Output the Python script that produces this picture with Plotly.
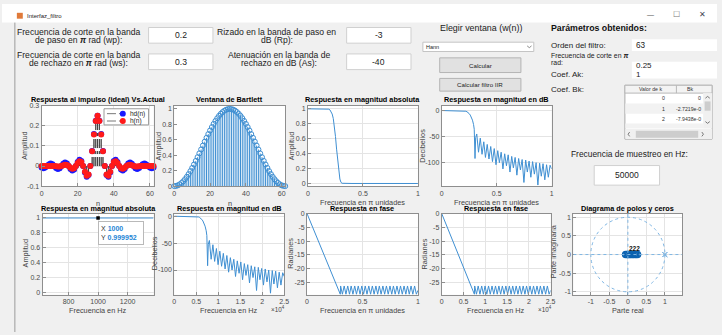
import plotly.graph_objects as go

FIG_W, FIG_H = 722, 335
FONT = "Liberation Sans, Arial, sans-serif"
FS = 50000                      # sampling frequency (Hz)

# ---------------- data ----------------
n = list(range(63))

hd = [-0.0073, -0.0106, -0.0078, 0.0, 0.0083, 0.0122, 0.0090, 0.0, -0.0098, -0.0145,
      -0.0107, 0.0, 0.0118, 0.0177, 0.0132, 0.0, -0.0150, -0.0227, -0.0173, 0.0,
      0.0205, 0.0318, 0.0250, 0.0, -0.0322, -0.0531, -0.0450, 0.0, 0.0750, 0.1592,
      0.2251, 0.2500, 0.2251, 0.1592, 0.0750, 0.0, -0.0450, -0.0531, -0.0322, 0.0,
      0.0250, 0.0318, 0.0205, 0.0, -0.0173, -0.0227, -0.0150, 0.0, 0.0132, 0.0177,
      0.0118, 0.0, -0.0107, -0.0145, -0.0098, 0.0, 0.0090, 0.0122, 0.0083, 0.0,
      -0.0078, -0.0106, -0.0073]

h = [0.0, -2.7219e-05, -7.9438e-05, 0.0, 0.00034, 0.00077, 0.00081, 0.0, -0.00152, -0.00281,
     -0.00252, 0.0, 0.00385, 0.00663, 0.00560, 0.0, -0.00788, -0.01307, -0.01082, 0.0,
     0.01476, 0.02431, 0.02015, 0.0, -0.02832, -0.04834, -0.04217, 0.0, 0.07328, 0.15758,
     0.22451, 0.25000, 0.22451, 0.15758, 0.07328, 0.0, -0.04217, -0.04834, -0.02832, 0.0,
     0.02015, 0.02431, 0.01476, 0.0, -0.01082, -0.01307, -0.00788, 0.0, 0.00560, 0.00663,
     0.00385, 0.0, -0.00252, -0.00281, -0.00152, 0.0, 0.00081, 0.00077, 0.00034, 0.0,
     -7.9438e-05, -2.7219e-05, 0.0]

w_win = [0.0000, 0.0026, 0.0102, 0.0229, 0.0405, 0.0628, 0.0896, 0.1206, 0.1555, 0.1940,
         0.2356, 0.2799, 0.3264, 0.3747, 0.4243, 0.4746, 0.5253, 0.5757, 0.6253, 0.6736,
         0.7202, 0.7644, 0.8060, 0.8445, 0.8794, 0.9104, 0.9372, 0.9595, 0.9771, 0.9898,
         0.9974, 1.0000, 0.9974, 0.9898, 0.9771, 0.9595, 0.9372, 0.9104, 0.8794, 0.8445,
         0.8060, 0.7644, 0.7202, 0.6736, 0.6253, 0.5757, 0.5253, 0.4746, 0.4243, 0.3747,
         0.3264, 0.2799, 0.2356, 0.1940, 0.1555, 0.1206, 0.0896, 0.0628, 0.0405, 0.0229,
         0.0102, 0.0026, 0.0000]

# magnitude response (linear), frequency in pi units
w_mag = [0.0, 0.10, 0.17, 0.19, 0.20, 0.21, 0.22, 0.23, 0.24, 0.25,
         0.26, 0.27, 0.28, 0.29, 0.30, 0.31, 0.40, 0.60, 0.80, 1.0]
mag_abs = [1.0, 1.0, 0.999, 0.995, 0.985, 0.965, 0.93, 0.87, 0.77, 0.63,
           0.46, 0.29, 0.15, 0.06, 0.015, 0.003, 0.0003, 0.00005, 0.00002, 0.00001]

# magnitude response in dB
w_db = [0.00, 0.05, 0.10, 0.15, 0.18, 0.20, 0.21, 0.22, 0.23, 0.24,
        0.25, 0.26, 0.27, 0.28, 0.29, 0.296, 0.303, 0.309, 0.319, 0.335,
        0.351, 0.367, 0.383, 0.398, 0.414, 0.430, 0.446, 0.462, 0.478, 0.494,
        0.510, 0.525, 0.541, 0.557, 0.573, 0.589, 0.605, 0.621, 0.637, 0.652,
        0.668, 0.684, 0.700, 0.716, 0.732, 0.748, 0.764, 0.779, 0.795, 0.811,
        0.827, 0.843, 0.859, 0.875, 0.891, 0.906, 0.922, 0.938, 0.954, 0.970,
        0.986, 1.000]
mag_db = [0.0, 0.0, -0.01, -0.03, -0.1, -0.4, -0.8, -1.4, -2.4, -3.8,
          -5.9, -8.8, -12.8, -18.5, -27.0, -36.0, -92.0, -52.0, -45.0, -80.0,
          -53.0, -84.0, -60.0, -90.0, -65.0, -93.0, -69.0, -98.0, -73.0, -104.0,
          -77.0, -100.0, -80.0, -112.0, -83.0, -106.0, -85.0, -118.0, -88.0, -110.0,
          -90.0, -124.0, -92.0, -114.0, -94.0, -138.0, -95.0, -118.0, -97.0, -128.0,
          -98.0, -122.0, -100.0, -143.0, -101.0, -126.0, -102.0, -133.0, -104.0, -128.0,
          -105.0, -112.0]

# phase response (rad)
w_ph = [0.0, 0.300, 0.303, 0.319, 0.335, 0.351, 0.367, 0.383, 0.398, 0.414,
        0.430, 0.446, 0.462, 0.478, 0.494, 0.510, 0.525, 0.541, 0.557, 0.573,
        0.589, 0.605, 0.621, 0.637, 0.652, 0.668, 0.684, 0.700, 0.716, 0.732,
        0.748, 0.764, 0.779, 0.795, 0.811, 0.827, 0.843, 0.859, 0.875, 0.891,
        0.906, 0.922, 0.938, 0.954, 0.970, 0.986, 1.000]
phase = [0.0, -29.3, -26.3, -29.3, -26.3, -29.3, -26.3, -29.3, -26.3, -29.3,
         -26.3, -29.3, -26.3, -29.3, -26.3, -29.3, -26.3, -29.3, -26.3, -29.3,
         -26.3, -29.3, -26.3, -29.3, -26.3, -29.3, -26.3, -29.3, -26.3, -29.3,
         -26.3, -29.3, -26.3, -29.3, -26.3, -29.3, -26.3, -29.3, -26.3, -29.3,
         -26.3, -29.3, -26.3, -29.3, -26.3, -29.3, -27.9]

# passband detail around 1 kHz
hz_pass = [625, 700, 800, 900, 1000, 1100, 1200, 1300, 1375]
mag_pass = [0.99996, 0.99996, 0.99995, 0.99995, 0.999952, 0.99995, 0.99995, 0.99995, 0.99995]
tip_hz, tip_mag = 1000, 0.999952

# pole-zero diagram
zeros_re = [-0.06, -0.02, 0.02, 0.06, 0.10, 0.14, 0.18, 0.22, 0.26]
zeros_im = [0.0, 0.0, 0.0, 0.0, 0.0, 0.0, 0.0, 0.0, 0.0]
poles_re = [1.0]
poles_im = [0.0]

# GUI values
wp, ws, rp, as_db = "0.2", "0.3", "-3", "-40"
orden, wc, ak = "63", "0.25", "1"

hz_db = [w * FS / 2 for w in w_db]
hz_ph = [w * FS / 2 for w in w_ph]

# ---------------- helpers ----------------
def px(x):
    return x / FIG_W

def py(y):
    return 1 - y / FIG_H

AX_C = "#8e8e8e"
GRID_C = "#e4e4e4"
TICK_C = "#4a4a4a"
LINE_C = "#3f8fd2"

boxes = {
    1: (40, 153, 104, 186),
    2: (174, 286, 104, 186),
    3: (309, 420, 104, 186),
    4: (444, 555, 104, 186),
    5: (41, 153, 214, 297),
    6: (174, 285, 214, 297),
    7: (308, 420, 214, 297),
    8: (444, 554, 214, 297),
    9: (577, 687, 214, 297),
}

layout = {}


def set_axes(i, xr, yr, xt, xtt, yt, ytt, grid=True):
    l, r, t, b = boxes[i]
    sfx = "" if i == 1 else str(i)
    common = dict(showline=True, mirror=True, linecolor=AX_C, linewidth=1,
                  ticks="inside", ticklen=3, tickcolor=AX_C, tickwidth=1,
                  tickfont=dict(family=FONT, size=7, color=TICK_C),
                  showgrid=grid, gridcolor=GRID_C, gridwidth=1,
                  zeroline=False, fixedrange=True)
    layout["xaxis" + sfx] = dict(common, domain=[px(l), px(r)], range=xr,
                                 tickvals=xt, ticktext=xtt, anchor="y" + sfx)
    layout["yaxis" + sfx] = dict(common, domain=[py(b), py(t)], range=yr,
                                 tickvals=yt, ticktext=ytt, anchor="x" + sfx)


def ax(i):
    sfx = "" if i == 1 else str(i)
    return dict(xaxis="x" + sfx, yaxis="y" + sfx)


hz_ticks = [0, 5000, 10000, 15000, 20000, 25000]
hz_text = ["0", "0.5", "1", "1.5", "2", "2.5"]
unit_ticks = [0, 0.5, 1]
unit_text = ["0", "0.5", "1"]
amp_ticks = [0, 0.2, 0.4, 0.6, 0.8, 1]
amp_text = ["0", "0.2", "0.4", "0.6", "0.8", "1"]

set_axes(1, [0, 62], [-0.1, 0.3], [0, 20, 40, 60], ["0", "20", "40", "60"],
         [-0.1, 0, 0.1, 0.2, 0.3], ["-0.1", "0", "0.1", "0.2", "0.3"])
set_axes(2, [0, 62], [0, 1.04], [0, 20, 40, 60], ["0", "20", "40", "60"],
         amp_ticks, amp_text, grid=False)
set_axes(3, [0, 1], [-0.035, 1.04], unit_ticks, unit_text, amp_ticks, amp_text)
set_axes(4, [0, 1], [-145, 9], unit_ticks, unit_text, [-100, -50, 0], ["-100", "-50", "0"])
set_axes(5, [625, 1375], [-0.035, 1.06], [800, 1000, 1200], ["800", "1000", "1200"],
         amp_ticks, amp_text)
set_axes(6, [0, 25000], [-146, 5], hz_ticks, hz_text, [-100, -50, 0], ["-100", "-50", "0"])
ph_ticks = [-25, -20, -15, -10, -5, 0]
ph_text = ["-25", "-20", "-15", "-10", "-5", "0"]
set_axes(7, [0, 1], [-29.5, 0], unit_ticks, unit_text, ph_ticks, ph_text)
set_axes(8, [0, 25000], [-29.5, 0], hz_ticks, hz_text, ph_ticks, ph_text)
set_axes(9, [-1.47, 1.47], [-1.08, 1.1], [-1, -0.5, 0, 0.5, 1], ["-1", "-0.5", "0", "0.5", "1"],
         [-1, -0.5, 0, 0.5, 1], ["-1", "-0.5", "0", "0.5", "1"])

fig = go.Figure()


def stems(xs, ys):
    sx, sy = [], []
    for xv, yv in zip(xs, ys):
        sx += [xv, xv, None]
        sy += [0, yv, None]
    return sx, sy


# impulse response: ideal (blue) vs actual (red)
sx, sy = stems(n, hd)
fig.add_trace(go.Scatter(x=sx, y=sy, mode="lines", line=dict(color="#3a3a3a", width=0.8, dash="dashdot"),
                         hoverinfo="skip", showlegend=False, **ax(1)))
fig.add_trace(go.Scatter(x=n, y=hd, mode="markers", marker=dict(size=6, color="#1818ff"),
                         cliponaxis=False, showlegend=False, **ax(1)))
sx, sy = stems(n, h)
fig.add_trace(go.Scatter(x=sx, y=sy, mode="lines", line=dict(color="#3a3a3a", width=0.8, dash="dashdot"),
                         hoverinfo="skip", showlegend=False, **ax(1)))
fig.add_trace(go.Scatter(x=n, y=h, mode="markers", marker=dict(size=6, color="#ff1a1a"),
                         cliponaxis=False, showlegend=False, **ax(1)))

# window
sx, sy = stems(n, w_win)
fig.add_trace(go.Scatter(x=sx, y=sy, mode="lines", line=dict(color=LINE_C, width=1),
                         hoverinfo="skip", showlegend=False, **ax(2)))
fig.add_trace(go.Scatter(x=n, y=w_win, mode="markers",
                         marker=dict(size=5, symbol="circle-open", color=LINE_C, line=dict(width=1)),
                         cliponaxis=False, showlegend=False, **ax(2)))

line_style = dict(color=LINE_C, width=1)
fig.add_trace(go.Scatter(x=w_mag, y=mag_abs, mode="lines", line=line_style, showlegend=False, **ax(3)))
fig.add_trace(go.Scatter(x=w_db, y=mag_db, mode="lines", line=line_style, showlegend=False, **ax(4)))
fig.add_trace(go.Scatter(x=hz_pass, y=mag_pass, mode="lines", line=line_style, showlegend=False, **ax(5)))
fig.add_trace(go.Scatter(x=[tip_hz], y=[tip_mag], mode="markers",
                         marker=dict(size=3.5, symbol="square", color="#000000"),
                         cliponaxis=False, showlegend=False, **ax(5)))
fig.add_trace(go.Scatter(x=hz_db, y=mag_db, mode="lines", line=line_style, showlegend=False, **ax(6)))
fig.add_trace(go.Scatter(x=w_ph, y=phase, mode="lines", line=line_style, showlegend=False, **ax(7)))
fig.add_trace(go.Scatter(x=hz_ph, y=phase, mode="lines", line=line_style, showlegend=False, **ax(8)))

# pole-zero plot
fig.add_trace(go.Scatter(x=zeros_re, y=zeros_im, mode="markers",
                         marker=dict(size=6, symbol="circle-open", color="#0b62b0", line=dict(width=1.6)),
                         showlegend=False, **ax(9)))
fig.add_trace(go.Scatter(x=poles_re, y=poles_im, mode="markers",
                         marker=dict(size=5, symbol="x-thin-open", color=LINE_C, line=dict(width=1)),
                         showlegend=False, **ax(9)))

shapes = []
ann = []


def rect(l, t, r, b, fill, line=None, lw=1, layer="below"):
    shapes.append(dict(type="rect", xref="paper", yref="paper",
                       x0=px(l), x1=px(r), y0=py(b), y1=py(t), fillcolor=fill,
                       line=dict(color=line if line else fill, width=lw if line else 0),
                       layer=layer))


def hline(x0, x1, y, color, width=1, dash="solid", layer="below"):
    shapes.append(dict(type="line", xref="paper", yref="paper", x0=px(x0), x1=px(x1),
                       y0=py(y), y1=py(y), line=dict(color=color, width=width, dash=dash), layer=layer))


def vline(x, y0, y1, color, width=1, layer="below"):
    shapes.append(dict(type="line", xref="paper", yref="paper", x0=px(x), x1=px(x),
                       y0=py(y0), y1=py(y1), line=dict(color=color, width=width), layer=layer))


def chevron(cx, cy, up, color="#777777"):
    d = -1.8 if up else 1.8
    shapes.append(dict(type="path", xref="paper", yref="paper",
                       path=f"M {px(cx - 2.2)},{py(cy - d / 2)} L {px(cx)},{py(cy + d / 2)} "
                            f"L {px(cx + 2.2)},{py(cy - d / 2)}",
                       line=dict(color=color, width=1)))


def side_chevron(cx, cy, left, color="#777777"):
    d = -1.6 if left else 1.6
    shapes.append(dict(type="path", xref="paper", yref="paper",
                       path=f"M {px(cx - d / 2)},{py(cy - 2.2)} L {px(cx + d / 2)},{py(cy)} "
                            f"L {px(cx - d / 2)},{py(cy + 2.2)}",
                       line=dict(color=color, width=1)))


def label(x, y, s, size=7.3, color="#333333", xa="center", bold=False, angle=0):
    ann.append(dict(x=px(x), y=py(y), xref="paper", yref="paper",
                    text=f"<b>{s}</b>" if bold else s, showarrow=False,
                    font=dict(family=FONT, size=size, color=color),
                    xanchor=xa, yanchor="middle", textangle=angle, borderpad=0))


# window chrome
rect(0, 0, 722, 19, "#ffffff")
rect(15, 9, 21, 15, "#e07a3a")
label(24, 12, "Interfaz_filtro", size=6, color="#222222", xa="left")
label(655, 11, "—", size=7, color="#555555")
label(681, 11, "☐", size=8, color="#777777")
label(707, 11, "✕", size=8, color="#444555")
vline(13, 19, 335, "#9c9c9c")

# input fields
pi_s = "<b><i>π</i></b>"
label(77.5, 29, "Frecuencia de corte en la banda", size=8.6, color="#222222")
label(77.5, 37, f"de paso en {pi_s} rad (wp):", size=8.6, color="#222222")
label(77.5, 52, "Frecuencia de corte en la banda", size=8.6, color="#222222")
label(77.5, 60, f"de rechazo en {pi_s} rad (ws):", size=8.6, color="#222222")
label(277.5, 29, "Rizado en la banda de paso en", size=8.6, color="#222222")
label(277.5, 37, "dB (Rp):", size=8.6, color="#222222")
label(280, 52, "Atenuación en la banda de", size=8.6, color="#222222")
label(280, 60, "rechazo en dB (As):", size=8.6, color="#222222")
for (l, t, r, b, s) in [(148, 24, 213, 40, wp), (148, 51, 213, 67, ws),
                        (348, 24, 413, 40, rp), (348, 51, 413, 67, as_db)]:
    rect(l, t, r, b, "#ffffff", "#d0d0d0")
    label((l + r) / 2, (t + b) / 2, s, size=8.6, color="#222222")

# window selector and buttons
label(484, 25, "Elegir ventana (w(n))", size=8.9, color="#222222")
rect(425, 39, 537, 48.5, "#ffffff", "#c4c4c4")
label(427, 44, "Hann", size=5.5, color="#222222", xa="left")
chevron(532.5, 43.7, up=False, color="#8a8a8a")
rect(442, 55, 524, 70, "#e1e1e1", "#b4b4b4")
label(483, 62.5, "Calcular", size=6.2, color="#222222")
rect(442, 76, 524, 89, "#e1e1e1", "#b4b4b4")
label(483, 82.5, "Calcular filtro IIR", size=6.2, color="#222222")

# parameter summary
label(553, 25, "Parámetros obtenidos:", size=8.8, color="#111111", xa="left", bold=True)
rect(636, 36, 722, 48, "#ffffff")
rect(636, 59, 722, 67.5, "#ffffff")
rect(636, 67.5, 722, 76, "#ffffff")
label(553, 42, "Orden del filtro:", size=8, color="#222222", xa="left")
label(639, 42, orden, size=8.2, color="#222222", xa="left")
label(553, 53, f"Frecuencia de corte en {pi_s}", size=6.9, color="#222222", xa="left")
label(553, 59.5, "rad:", size=6.9, color="#222222", xa="left")
label(639, 63.3, wc, size=8.0, color="#222222", xa="left")
label(553, 72, "Coef. Ak:", size=8, color="#222222", xa="left")
label(639, 71.8, ak, size=8.0, color="#222222", xa="left")
label(553, 87.5, "Coef. Bk:", size=8, color="#222222", xa="left")

# coefficient table
rect(629, 83, 717, 138, "#ffffff", "#a8a8a8")
rect(629, 83, 717, 91, "#f3f3f3", "#b8b8b8")
vline(681, 83, 91, "#b8b8b8")
rect(629.5, 101.5, 708, 112, "#f2f2f2")
rect(629.5, 122, 708, 127, "#f2f2f2")
label(655, 87, "Valor de k", size=5.2, color="#333333")
label(694.5, 87, "Bk", size=5.2, color="#333333")
label(670, 96.5, "0", size=5.2, color="#333333", xa="right")
label(707, 96.5, "0", size=5.2, color="#333333", xa="right")
label(670, 107, "1", size=5.2, color="#333333", xa="right")
label(707, 107, f"{h[1]:.4e}"[:10], size=5.2, color="#333333", xa="right")
label(670, 117.5, "2", size=5.2, color="#333333", xa="right")
label(707, 117.5, f"{h[2]:.4e}"[:10], size=5.2, color="#333333", xa="right")
rect(708, 91, 717, 127, "#f0f0f0")
rect(709.5, 99.5, 715.5, 109, "#cdcdcd")
chevron(712.5, 95.3, up=True)
chevron(712.5, 121, up=False)
rect(629.5, 127.5, 717, 138, "#f0f0f0")
rect(640, 129.5, 703, 136.5, "#cdcdcd")
side_chevron(633, 133, left=True)
side_chevron(707.5, 133, left=False)

# sampling frequency
label(633.5, 153, "Frecuencia de muestreo en Hz:", size=8.4, color="#222222")
rect(598, 165, 664, 185, "#ffffff", "#d0d0d0")
label(631, 175, str(FS), size=8.5, color="#222222")

# axis titles and labels
titles = [
    (96.5, 98, "Respuesta al impulso (ideal) Vs.Actual"),
    (230, 98, "Ventana de Bartlett"),
    (364.5, 98, "Respuesta en magnitud absoluta"),
    (499.5, 98, "Respuesta en magnitud en dB"),
    (97, 209, "Respuesta en magnitud absoluta"),
    (229.5, 209, "Respuesta en magnitud en dB"),
    (364, 209, "Respuesta en fase"),
    (499, 209, "Respuesta en fase"),
    (632, 209, "Diagrama de polos y ceros"),
]
for x, y, s in titles:
    label(x, y, s, size=7.3, color="#000000", bold=True)

xlabels = [
    (96.5, 203.5, "n"), (230, 203.5, "n"),
    (364.5, 202.5, "Frecuencia en π unidades"), (499.5, 202.5, "Frecuencia en π unidades"),
    (97, 313, "Frecuencia en Hz"), (229.5, 313, "Frecuencia en Hz"),
    (364, 313, "Frecuencia en π unidades"), (499, 313, "Frecuencia en Hz"),
    (632, 313, "Parte real"),
]
for x, y, s in xlabels:
    label(x, y, s, size=7.3, color="#444444")
label(279, 312, "×10<sup>4</sup>", size=6.3, color="#444444")
label(548, 312, "×10<sup>4</sup>", size=6.3, color="#444444")

ylabels = [
    (23, 145, "Amplitud"), (159, 145, "Amplitud"), (293, 145, "Amplitud"),
    (425, 145, "Decibelios"), (24, 255, "Amplitud"), (154, 255, "Decibelios"),
    (292, 255, "Radianes"), (427, 255, "Radianes"), (557, 253, "Parte imaginaria"),
]
for x, y, s in ylabels:
    label(x, y, s, size=7.3, color="#444444", angle=-90)

# legend of the impulse response plot
rect(103, 107, 148, 123.5, "#ffffff", "#9a9a9a", layer="above")
for yy, col, name in [(112, "#1818ff", "hd(n)"), (119.5, "#ff1a1a", "h(n)")]:
    hline(106, 120, yy, "#555555", width=0.8, dash="dashdot", layer="above")
    shapes.append(dict(type="circle", xref="paper", yref="paper",
                       x0=px(119), x1=px(125), y0=py(yy + 3), y1=py(yy - 3),
                       fillcolor=col, line=dict(width=0), layer="above"))
    label(128, yy, name, size=6.5, color="#222222", xa="left")

# data tip on the passband detail
ann.append(dict(x=px(97), y=py(222), xref="paper", yref="paper", xanchor="left", yanchor="top",
                text="X <b><span style='color:#1f86d6'>1000</span></b><br>"
                     f"Y <b><span style='color:#1f86d6'>{tip_mag}</span></b>",
                showarrow=False, align="left", width=40, height=18,
                bgcolor="#ffffff", bordercolor="#b9b9b9", borderwidth=1, borderpad=2,
                font=dict(family=FONT, size=7, color="#333333")))

# pole-zero decorations: unit circle, axes, multiplicity labels
shapes.append(dict(type="circle", xref="x9", yref="y9", x0=-1, y0=-1, x1=1, y1=1,
                   line=dict(color="#7fb6e3", width=1, dash="dot"), layer="above"))
shapes.append(dict(type="line", xref="x9", yref="y9", x0=-1.47, x1=1.47, y0=0, y1=0,
                   line=dict(color="#7fb6e3", width=1, dash="dot"), layer="above"))
shapes.append(dict(type="line", xref="x9", yref="y9", x0=0, x1=0, y0=-1.08, y1=1.1,
                   line=dict(color="#7fb6e3", width=1, dash="dot"), layer="above"))
ann.append(dict(x=0.17, y=0.16, xref="x9", yref="y9", text="<b>222</b>", showarrow=False,
                font=dict(family=FONT, size=6.5, color="#111111"), borderpad=0))

fig.update_layout(
    width=FIG_W, height=FIG_H,
    margin=dict(l=0, r=0, t=0, b=0),
    paper_bgcolor="#f0f0f0", plot_bgcolor="#ffffff",
    font=dict(family=FONT, size=7, color="#333333"),
    showlegend=False,
    shapes=shapes, annotations=ann,
    **layout,
)

fig.write_html("out.html", config={"displayModeBar": False})
